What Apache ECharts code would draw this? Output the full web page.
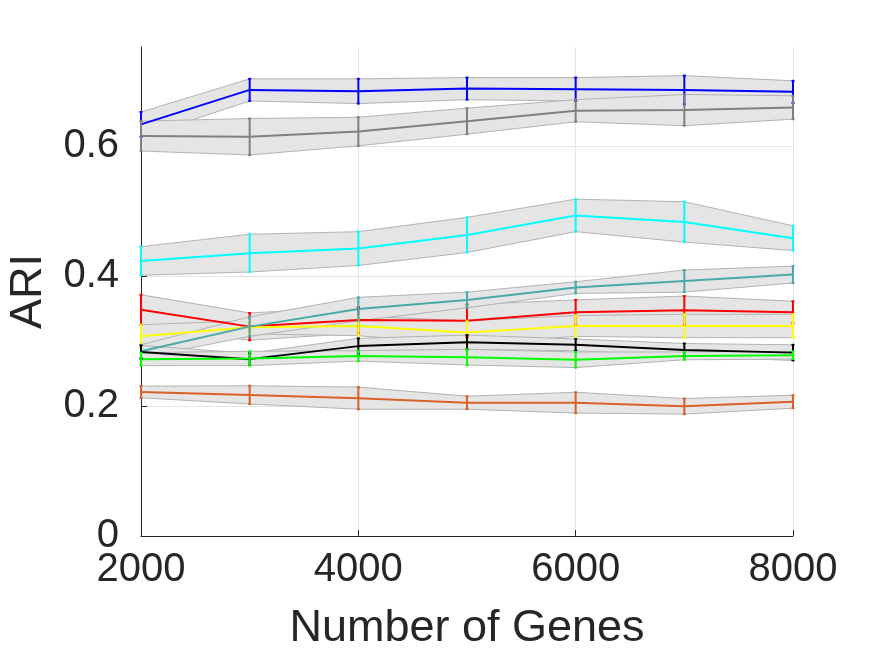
<!DOCTYPE html>
<html>
<head>
<meta charset="utf-8">
<script src="https://cdn.jsdelivr.net/npm/echarts@6/dist/echarts.min.js"></script>
<style>
  html, body { margin: 0; padding: 0; background: #fff; }
  #chart { width: 875px; height: 657px; }
</style>
</head>
<body>
<div id="chart"></div>
<script>
// number of genes on the x axis
const genes = ["2000", "3000", "4000", "5000", "6000", "7000", "8000"];
const yTicks = [0, 0.2, 0.4, 0.6];

// mean ARI and half-width of the error bar, one pair per method
const blueMean = [0.633, 0.686, 0.684, 0.688, 0.687, 0.686, 0.683];
const blueErr = [0.019, 0.017, 0.019, 0.017, 0.018, 0.022, 0.017];
const grayMean = [0.615, 0.614, 0.622, 0.638, 0.654, 0.655, 0.659];
const grayErr = [0.023, 0.028, 0.022, 0.020, 0.017, 0.024, 0.018];
const cyanMean = [0.423, 0.435, 0.442, 0.463, 0.493, 0.483, 0.458];
const cyanErr = [0.022, 0.029, 0.026, 0.027, 0.025, 0.031, 0.019];
const tealMean = [0.284, 0.322, 0.349, 0.363, 0.382, 0.392, 0.402];
const tealErr = [0.010, 0.015, 0.018, 0.012, 0.009, 0.017, 0.013];
const redMean = [0.348, 0.322, 0.332, 0.331, 0.344, 0.347, 0.344];
const redErr = [0.023, 0.021, 0.020, 0.025, 0.019, 0.022, 0.017];
const yellowMean = [0.307, 0.321, 0.323, 0.313, 0.323, 0.323, 0.323];
const yellowErr = [0.018, 0.010, 0.015, 0.018, 0.016, 0.018, 0.018];
const blackMean = [0.283, 0.272, 0.292, 0.298, 0.294, 0.286, 0.282];
const blackErr = [0.010, 0.009, 0.012, 0.011, 0.009, 0.010, 0.012];
const greenMean = [0.272, 0.273, 0.277, 0.275, 0.271, 0.277, 0.278];
const greenErr = [0.010, 0.011, 0.008, 0.012, 0.012, 0.006, 0.006];
const orangeMean = [0.2215, 0.217, 0.212, 0.205, 0.205, 0.1995, 0.2065];
const orangeErr = [0.009, 0.014, 0.017, 0.010, 0.016, 0.012, 0.010];

const methods = [
  { name: "blue", color: "#0000ff", mean: blueMean, err: blueErr },
  { name: "gray", color: "#808080", mean: grayMean, err: grayErr },
  { name: "cyan", color: "#00ffff", mean: cyanMean, err: cyanErr },
  { name: "red", color: "#ff0000", mean: redMean, err: redErr },
  { name: "yellow", color: "#ffff00", mean: yellowMean, err: yellowErr },
  { name: "teal", color: "#4ba9a9", mean: tealMean, err: tealErr },
  { name: "black", color: "#000000", mean: blackMean, err: blackErr },
  { name: "green", color: "#00ff00", mean: greenMean, err: greenErr },
  { name: "orange", color: "#d9602a", mean: orangeMean, err: orangeErr },
];

const textColor = "#262626";
const font = "Liberation Sans, Arial, sans-serif";

let series = [];

// shaded bands: lower edge + stacked width
methods.forEach((m, k) => {
  const lo = m.mean.map((v, i) => +(v - m.err[i]).toFixed(4));
  const width = m.err.map((e) => +(2 * e).toFixed(4));
  series.push({
    type: "line",
    stack: "band" + k,
    data: lo,
    symbol: "none",
    silent: true,
    z: 1 + k * 0.01,
    lineStyle: { color: "#b3b3b3", width: 1 },
  });
  series.push({
    type: "line",
    stack: "band" + k,
    data: width,
    symbol: "none",
    silent: true,
    z: 1 + k * 0.01,
    lineStyle: { color: "#b3b3b3", width: 1 },
    areaStyle: { color: "#e5e5e5", opacity: 1 },
  });
});

// mean lines
methods.forEach((m) => {
  series.push({
    type: "line",
    data: m.mean,
    symbol: "none",
    z: 5,
    lineStyle: { color: m.color, width: 2 },
  });
});

// error bars
methods.forEach((m) => {
  series.push({
    type: "custom",
    z: 6,
    data: m.mean.map((v, i) => [i, v - m.err[i], v + m.err[i]]),
    renderItem(params, api) {
      const top = api.coord([api.value(0), api.value(2)]);
      const bot = api.coord([api.value(0), api.value(1)]);
      const style = { stroke: m.color, lineWidth: 2 };
      return {
        type: "group",
        children: [
          { type: "line", shape: { x1: top[0], y1: top[1], x2: bot[0], y2: bot[1] }, style },
          { type: "line", shape: { x1: top[0] - 1.5, y1: top[1], x2: top[0] + 1.5, y2: top[1] }, style },
          { type: "line", shape: { x1: bot[0] - 1.5, y1: bot[1], x2: bot[0] + 1.5, y2: bot[1] }, style },
        ],
      };
    },
  });
});

const chart = echarts.init(document.getElementById("chart"));
chart.setOption({
  animation: false,
  backgroundColor: "#ffffff",
  grid: { left: 141, right: 82, top: 47, bottom: 121, outerBoundsMode: "none", containLabel: false },
  xAxis: {
    type: "category",
    data: genes,
    boundaryGap: false,
    name: "Number of Genes",
    nameLocation: "middle",
    nameGap: 70,
    nameTextStyle: { color: textColor, fontSize: 45, fontFamily: font },
    axisLine: { lineStyle: { color: textColor, width: 1 } },
    axisTick: { inside: true, length: 6, interval: 1, lineStyle: { color: textColor } },
    axisLabel: { interval: 1, color: textColor, fontSize: 40, fontFamily: font, margin: 14 },
    splitLine: { show: true, interval: 1, lineStyle: { color: "#e6e6e6", width: 1 } },
  },
  yAxis: {
    type: "value",
    min: 0,
    max: 0.752,
    interval: 0.2,
    name: "ARI",
    nameLocation: "middle",
    nameGap: 90,
    nameTextStyle: { color: textColor, fontSize: 45, fontFamily: font },
    axisLine: { show: true, lineStyle: { color: textColor, width: 1 } },
    axisTick: { show: true, inside: true, length: 6, lineStyle: { color: textColor } },
    axisLabel: {
      color: textColor,
      fontSize: 40,
      fontFamily: font,
      margin: 22,
      showMaxLabel: false,
      formatter(v) {
        const t = yTicks.find((s) => Math.abs(s - v) < 1e-6);
        return t === undefined ? "" : String(t);
      },
    },
    splitLine: { show: true, showMaxLine: false, lineStyle: { color: "#e6e6e6", width: 1 } },
  },
  series: series,
});
</script>
</body>
</html>
